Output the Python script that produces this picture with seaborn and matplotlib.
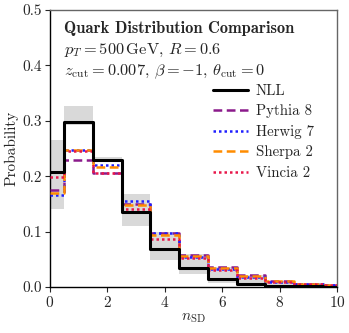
import numpy as np
import pandas as pd
import seaborn as sns
import matplotlib
matplotlib.use("Agg")
import matplotlib.pyplot as plt

sns.set_theme(style="ticks")
plt.rcParams['font.family'] = ['serif']
plt.rcParams['font.serif'] = ['cmr10']
plt.rcParams['mathtext.fontset'] = 'cm'
plt.rcParams['axes.formatter.use_mathtext'] = True

n_sd = list(range(11))
nll = [0.207, 0.297, 0.229, 0.135, 0.069, 0.034, 0.014, 0.006, 0.002, 0.001, 0.0005]
nll_lo = [0.140, 0.293, 0.225, 0.110, 0.049, 0.024, 0.007, 0.003, 0.001, 0.0, 0.0]
nll_hi = [0.265, 0.327, 0.235, 0.168, 0.099, 0.060, 0.036, 0.021, 0.011, 0.006, 0.003]
pythia = [0.175, 0.229, 0.205, 0.150, 0.098, 0.058, 0.037, 0.022, 0.011, 0.006, 0.003]
herwig = [0.166, 0.247, 0.220, 0.156, 0.097, 0.055, 0.032, 0.018, 0.009, 0.005, 0.003]
sherpa = [0.170, 0.247, 0.216, 0.148, 0.094, 0.056, 0.035, 0.020, 0.010, 0.006, 0.003]
vincia = [0.199, 0.246, 0.205, 0.140, 0.086, 0.053, 0.031, 0.017, 0.009, 0.005, 0.003]

fig = plt.figure(figsize=(3.49, 3.33), dpi=100)
ax = fig.add_axes([50/349, 1-287/333, 287/349, 277/333])

ax.fill_between(n_sd, nll_lo, nll_hi, step='mid', color='#d9d9d9', lw=0, zorder=1)

series = [
    ("Pythia 8", pythia, '#8b1a8b', (0, (3.5, 1.8))),
    ("Herwig 7", herwig, '#1f1fff', (0, (1, 1.2))),
    ("Sherpa 2", sherpa, '#ff8c00', (0, (3.5, 1.8))),
    ("Vincia 2", vincia, '#e8174a', (0, (1, 1.2))),
]
df = pd.DataFrame({"x": n_sd, "NLL": nll})
for name, vals, col, ls in series:
    df[name] = vals

sns.lineplot(x=df["x"], y=df["NLL"], ax=ax, color='black', lw=2.2,
             drawstyle='steps-mid', label='NLL', zorder=5)
for name, vals, col, ls in series:
    sns.lineplot(x=df["x"], y=df[name], ax=ax, color=col, lw=1.8,
                 linestyle=ls, drawstyle='steps-mid', label=name, zorder=3)

ax.set_xlim(0, 10)
ax.set_ylim(0, 0.5)
ax.set_xticks([0, 2, 4, 6, 8, 10])
ax.set_yticks([0.0, 0.1, 0.2, 0.3, 0.4, 0.5])
ax.set_yticklabels(['0.0', '0.1', '0.2', '0.3', '0.4', '0.5'])
ax.tick_params(labelsize=11, length=3.5, width=0.8, direction='out', pad=2)
ax.set_xlabel(r'$n_{\mathrm{SD}}$', fontsize=11, labelpad=1)
ax.set_ylabel('Probability', fontsize=11, labelpad=3)
for s in ['left', 'bottom']:
    ax.spines[s].set_color('black')
    ax.spines[s].set_linewidth(1.0)
for s in ['top', 'right']:
    ax.spines[s].set_color('#666666')
    ax.spines[s].set_linewidth(1.0)

ax.text(0.05, 0.96, 'Quark Distribution Comparison', transform=ax.transAxes,
        family='cmb10', fontsize=11.8, va='top', ha='left')
ax.text(0.05, 0.885, r'$p_T = 500\,\mathrm{GeV},\, R = 0.6$', transform=ax.transAxes,
        fontsize=11.8, va='top', ha='left')
ax.text(0.05, 0.81, r'$z_{\mathrm{cut}} = 0.007,\, \beta = -1,\, \theta_{\mathrm{cut}} = 0$',
        transform=ax.transAxes, fontsize=11.8, va='top', ha='left')

leg = ax.legend(loc='upper right', bbox_to_anchor=(0.955, 0.77), frameon=False,
                fontsize=10.7, handlelength=2.35, handletextpad=0.5,
                labelspacing=0.44, borderaxespad=0.3)

fig.savefig('out.png', dpi=100)
